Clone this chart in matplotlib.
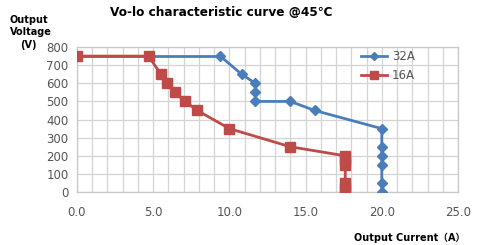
import matplotlib.pyplot as plt
import numpy as np

# 32A curve
cur_32 = [0, 9.4, 10.8, 11.7, 11.7, 11.7, 14.0, 15.6, 20.0, 20.0, 20.0, 20.0, 20.0, 20.0]
volt_32 = [750, 750, 650, 600, 550, 500, 500, 450, 350, 250, 200, 150, 50, 0]
# 16A curve
cur_16 = [0, 4.7, 5.5, 5.9, 6.4, 7.1, 7.9, 10.0, 14.0, 17.6, 17.6, 17.6, 17.6, 17.6, 17.6]
volt_16 = [750, 750, 650, 600, 550, 500, 450, 350, 250, 200, 175, 150, 50, 25, 0]

x_ticks = [0, 5, 10, 15, 20, 25]
y_ticks = [0, 100, 200, 300, 400, 500, 600, 700, 800]

blue = '#4a7ebb'
red = '#be4b48'

fig = plt.figure(figsize=(5, 2.45), dpi=100)
ax = fig.add_axes([0.154, 0.216, 0.762, 0.592])

ax.plot(cur_32[1:], volt_32[1:], color=blue, lw=2, marker='D', ms=5, mec=blue, label='32A', zorder=3)
ax.plot(cur_32[:2], volt_32[:2], color=blue, lw=2, zorder=2)
ax.plot(cur_16, volt_16, color=red, lw=2, marker='s', ms=7, mec=red, label='16A', zorder=4)

ax.set_xlim(0, 25)
ax.set_ylim(0, 800)
ax.set_xticks(x_ticks)
ax.set_xticklabels([f'{v:.1f}' for v in x_ticks])
ax.set_yticks(y_ticks)
ax.set_xticks(np.arange(0, 26, 1), minor=True)
ax.grid(True, which='both', color='#d4d4d4', lw=0.9)
ax.set_axisbelow(True)
ax.tick_params(which='both', length=0, labelsize=8.5, labelcolor='#555555')
ax.tick_params(axis='x', pad=10)
ax.tick_params(axis='y', pad=6)
for s in ax.spines.values():
    s.set_color('#c8c8c8')
    s.set_linewidth(0.9)

leg = ax.legend(loc='upper right', bbox_to_anchor=(0.915, 1.055), frameon=False,
                fontsize=8.5, handlelength=2.2, handletextpad=0.4, labelspacing=0.55,
                markerscale=0.8)
for t in leg.get_texts():
    t.set_color('#555555')

fig.text(0.442, 0.95, 'Vo-lo characteristic curve @45\u2103', ha='center', va='center',
         fontsize=8.7, fontweight='bold')
fig.text(0.02, 0.918, 'Output', ha='left', va='center', fontsize=7, fontweight='bold')
fig.text(0.02, 0.869, 'Voltage', ha='left', va='center', fontsize=7, fontweight='bold')
fig.text(0.04, 0.818, '(V)', ha='left', va='center', fontsize=7, fontweight='bold')
fig.text(0.82, 0.03, 'Output Current\uff08A\uff09', ha='center', va='center',
         fontsize=7, fontweight='bold', family=['DejaVu Sans', 'Noto Sans CJK SC'])

fig.savefig('out.png', dpi=100)
